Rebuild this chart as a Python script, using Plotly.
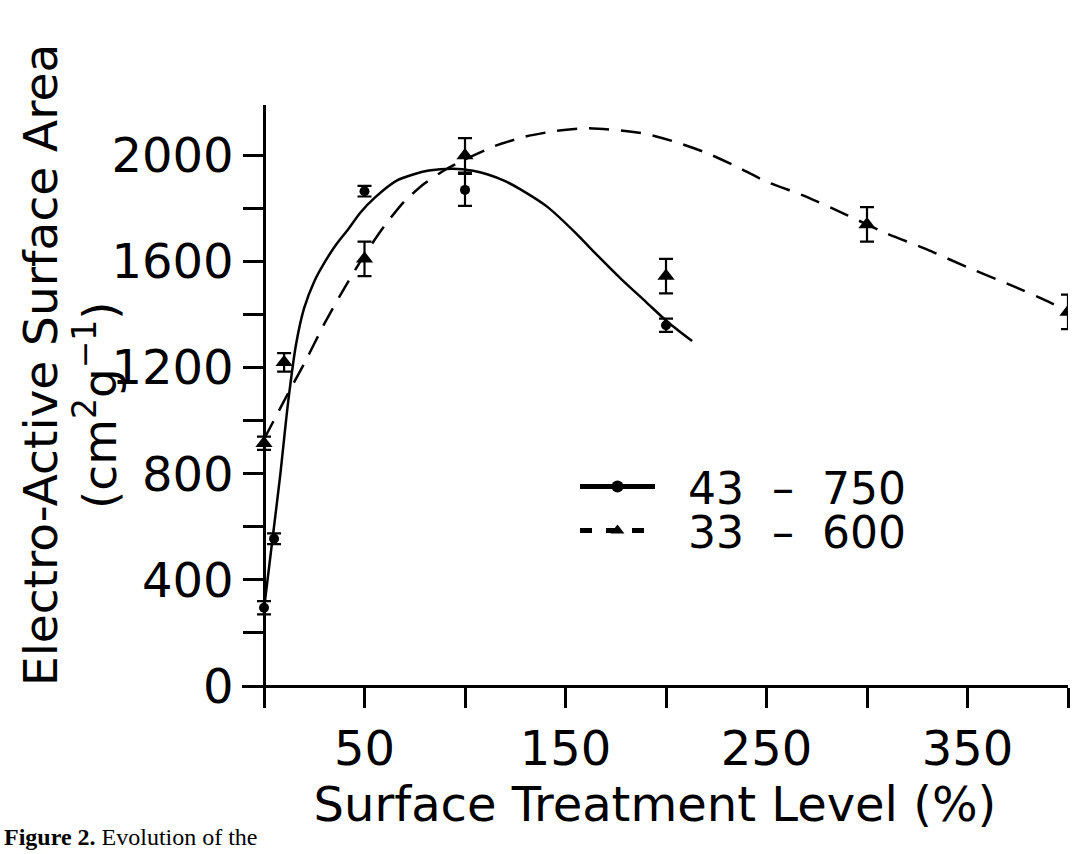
import plotly.graph_objects as go

# ---------------- data ----------------
# measured points, sample "43 - 750" (circles, solid fit)
x_43 = [0, 5, 50, 100, 200]
y_43 = [295, 555, 1865, 1870, 1360]
err_43 = [25, 20, 20, 60, 25]

# measured points, sample "33 - 600" (triangles, dashed fit)
x_33 = [0, 10, 50, 100, 200, 300, 400]
y_33 = [915, 1220, 1610, 2000, 1545, 1740, 1410]
err_33 = [25, 35, 65, 65, 65, 65, 65]

# fitted curves
fit_43_x = [0, 4, 8, 12, 16, 20, 25, 30, 36, 42, 48, 55, 66, 75, 82, 94,
            104, 111, 120, 128, 141, 155, 165, 178, 190, 201, 213]
fit_43_y = [290, 540, 790, 1070, 1290, 1425, 1525, 1595, 1665, 1723, 1785,
            1840, 1905, 1930, 1943, 1950, 1942, 1929, 1903, 1870, 1806,
            1708, 1630, 1532, 1448, 1371, 1300]

fit_33_x = [0, 10, 20, 30, 40, 50, 60, 70, 80, 90, 100, 115, 130, 145, 160,
            175, 190, 205, 220, 235, 250, 270, 290, 310, 330, 350, 370, 390, 400]
fit_33_y = [930, 1075, 1215, 1365, 1500, 1625, 1735, 1828, 1895, 1945, 1985,
            2036, 2071, 2092, 2102, 2096, 2081, 2050, 2010, 1958, 1901, 1844,
            1775, 1705, 1645, 1578, 1516, 1450, 1410]

series_names = ["43\u00a0\u00a0\u2013\u00a0\u00a0750", "33\u00a0\u00a0\u2013\u00a0\u00a0600"]

x_ticks = [0, 50, 100, 150, 200, 250, 300, 350, 400]
x_ticklabels = ["", "50", "", "150", "", "250", "", "350", ""]
y_ticks = [0, 200, 400, 600, 800, 1000, 1200, 1400, 1600, 1800, 2000]
y_ticklabels = ["0", "", "400", "", "800", "", "1200", "", "1600", "", "2000"]

x_title = "Surface Treatment Level (%)"
y_title_1 = "Electro-Active Surface Area"
y_title_2 = "(cm<sup>2</sup>g<sup>\u22121</sup>)"
caption = "<b>Figure 2.</b> Evolution of the"

# ---------------- layout geometry ----------------
W, H = 1077, 854
ox, oy = 264, 686          # pixel position of the origin
sx, sy = 2.01, 0.2653      # pixels per data unit
x_range = [-11, 400]
y_range = [-83, 2190]
left_px = ox + x_range[0] * sx
right_px = ox + x_range[1] * sx
bottom_px = oy - y_range[0] * sy
top_px = oy - y_range[1] * sy

FONT = "DejaVu Sans"
BLACK = "black"
DASH = "20px,12px"

fig = go.Figure()

# fitted curves
fig.add_trace(go.Scatter(
    x=fit_43_x, y=fit_43_y, mode="lines", showlegend=False, name=series_names[0],
    line=dict(color=BLACK, width=2.5, shape="spline", smoothing=0.7),
    hoverinfo="skip"))
fig.add_trace(go.Scatter(
    x=fit_33_x, y=fit_33_y, mode="lines", showlegend=False, name=series_names[1],
    line=dict(color=BLACK, width=2.5, dash=DASH, shape="spline", smoothing=0.6),
    hoverinfo="skip"))

# measured points with error bars
fig.add_trace(go.Scatter(
    x=x_43, y=y_43, mode="markers", showlegend=False, name=series_names[0],
    marker=dict(symbol="circle", size=10, color=BLACK),
    error_y=dict(type="data", array=err_43, color=BLACK, thickness=2.2, width=7)))
fig.add_trace(go.Scatter(
    x=x_33, y=y_33, mode="markers", showlegend=False, name=series_names[1],
    marker=dict(symbol="triangle-up", size=15, color=BLACK),
    error_y=dict(type="data", array=err_33, color=BLACK, thickness=2.2, width=7)))

# legend entries (line + marker samples)
fig.add_trace(go.Scatter(
    x=[None], y=[None], mode="lines+markers", name="\u00a0\u00a0" + series_names[0],
    line=dict(color=BLACK, width=2.5),
    marker=dict(symbol="circle", size=10, color=BLACK), legend="legend"))
fig.add_trace(go.Scatter(
    x=[None], y=[None], mode="lines+markers", name="\u00a0\u00a0" + series_names[1],
    line=dict(color=BLACK, width=2.5, dash="12px,14px"),
    marker=dict(symbol="triangle-up", size=13, color=BLACK), legend="legend2"))

axis_common = dict(
    showline=True, linecolor=BLACK, linewidth=2.5,
    ticks="outside", ticklen=20, tickwidth=2.5, tickcolor=BLACK,
    showgrid=False, zeroline=False, automargin=False,
    tickfont=dict(family=FONT, size=48, color=BLACK),
)

legend_common = dict(
    xanchor="left", yanchor="middle",
    font=dict(family=FONT, size=44, color=BLACK),
    itemwidth=75, bgcolor="rgba(0,0,0,0)", itemsizing="constant",
)

fig.update_layout(
    width=W, height=H,
    margin=dict(l=0, r=0, t=0, b=0),
    paper_bgcolor="white", plot_bgcolor="white",
    font=dict(family=FONT, color=BLACK),
    xaxis=dict(
        range=x_range, domain=[left_px / W, right_px / W],
        anchor="free", position=(H - oy) / H,
        tickmode="array", tickvals=x_ticks, ticktext=x_ticklabels,
        title=dict(text=x_title, font=dict(family=FONT, size=48, color=BLACK), standoff=6),
        **axis_common),
    yaxis=dict(
        range=y_range, domain=[(H - bottom_px) / H, (H - top_px) / H],
        anchor="free", position=ox / W,
        tickmode="array", tickvals=y_ticks, ticktext=y_ticklabels,
        **axis_common),
    legend=dict(x=575 / W, y=(H - 487) / H, **legend_common),
    legend2=dict(x=575 / W, y=(H - 531) / H, **legend_common),
    annotations=[
        dict(text=y_title_1, textangle=-90, xref="paper", yref="paper",
             x=40 / W, y=(H - 365) / H, xanchor="center", yanchor="middle",
             showarrow=False, font=dict(family=FONT, size=47, color=BLACK)),
        dict(text=y_title_2, textangle=-90, xref="paper", yref="paper",
             x=96 / W, y=(H - 405) / H, xanchor="center", yanchor="middle",
             showarrow=False, font=dict(family=FONT, size=47, color=BLACK)),
        dict(text=caption, xref="paper", yref="paper",
             x=2 / W, y=(H - 822) / H, xanchor="left", yanchor="top",
             showarrow=False, font=dict(family="Liberation Serif", size=24, color=BLACK)),
    ],
)

fig.write_html("out.html")
